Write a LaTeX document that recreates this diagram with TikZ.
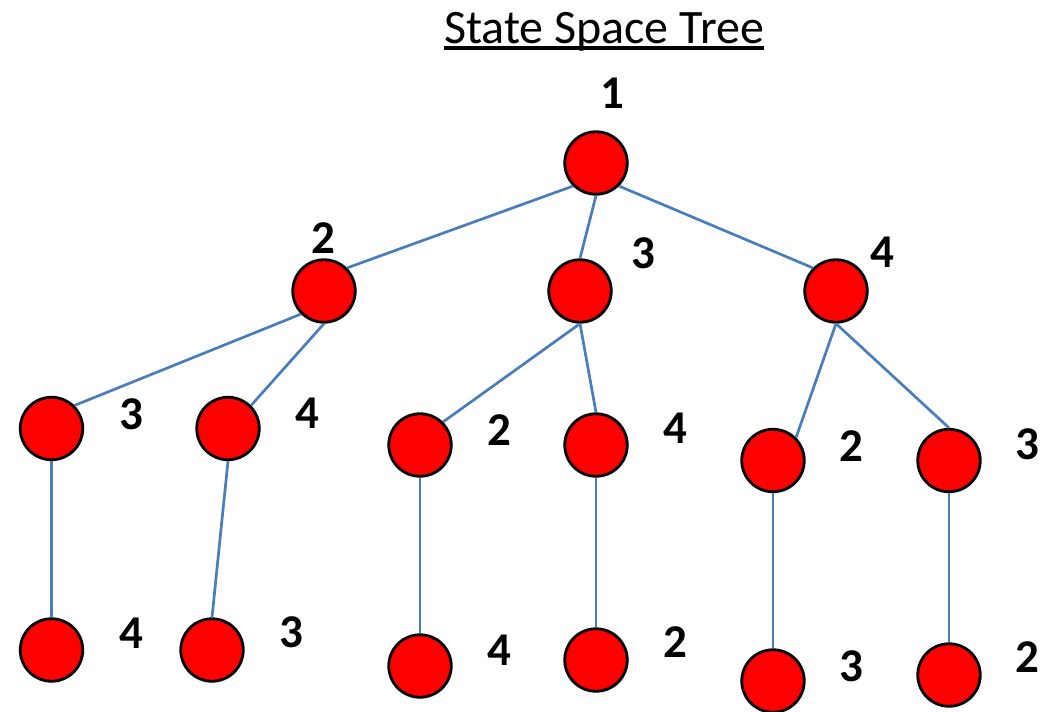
\documentclass[tikz,border=0pt]{standalone}
\usepackage{fontspec}
\setmainfont{Carlito}
\definecolor{edgeblue}{RGB}{74,126,187}
\definecolor{nodered}{RGB}{255,0,0}
\begin{document}
\begin{tikzpicture}[x=1pt,y=-1pt,
  st/.style={circle,draw=black,fill=nodered,line width=2.8pt,minimum size=62.5pt,inner sep=0pt},
  lbl/.style={inner sep=0pt,anchor=center,font=\bfseries\fontsize{47}{47}\selectfont},
  edge/.style={draw=edgeblue,line width=2.7pt}]
\useasboundingbox (0,0) rectangle (1052,712);
% title
\node[inner sep=0pt,anchor=base,font=\fontsize{48}{48}\selectfont] (title) at (604,43) {State Space Tree};
\draw[line width=3.3pt] ([yshift=-5pt]title.base west) -- ([yshift=-5pt]title.base east);
% nodes
\node[st] (r) at (596,163) {};
\node[st] (a) at (324,291) {};
\node[st] (b) at (580,291) {};
\node[st] (c) at (836,291) {};
\node[st] (a1) at (51.5,428.5) {};
\node[st] (a2) at (228,428.5) {};
\node[st] (b1) at (420,445) {};
\node[st] (b2) at (596,445) {};
\node[st] (c1) at (773,460.5) {};
\node[st] (c2) at (949,460.5) {};
\node[st] (a1x) at (51.5,650) {};
\node[st] (a2x) at (212,650) {};
\node[st] (b1x) at (420,666) {};
\node[st] (b2x) at (596,660) {};
\node[st] (c1x) at (773,681) {};
\node[st] (c2x) at (949,675) {};
% edges
\draw[edge] (r.south west) -- (a.north east);
\draw[edge] (r.south) -- (b.north);
\draw[edge] (r.south east) -- (c.north west);
\draw[edge] (a.south west) -- (a1.north east);
\draw[edge] (a.south) -- (a2.north east);
\draw[edge] (b.south) -- (b1.north east);
\draw[edge] (b.south) -- (b2.north);
\draw[edge] (c.south) -- (c1.north east);
\draw[edge] (c.south) -- (c2.north);
\draw[edge] (a1.south) -- (a1x.north);
\draw[edge] (a2.south) -- (a2x.north);
\draw[edge] (b1.south) -- (b1x.north);
\draw[edge] (b2.south) -- (b2x.north);
\draw[edge] (c1.south) -- (c1x.north);
\draw[edge] (c2.south) -- (c2x.north);
% labels
\node[lbl] (lr) at (612,93) {1};
\node[lbl] (la) at (323,238) {2};
\node[lbl] (lb) at (643.5,253) {3};
\node[lbl] (lc) at (882,252) {4};
\node[lbl] (la1) at (131,414) {3};
\node[lbl] (la2) at (307,413) {4};
\node[lbl] (lb1) at (499,430) {2};
\node[lbl] (lb2) at (675,428) {4};
\node[lbl] (lc1) at (851,446) {2};
\node[lbl] (lc2) at (1027,444) {3};
\node[lbl] (la1x) at (131,633) {4};
\node[lbl] (la2x) at (291,632) {3};
\node[lbl] (lb1x) at (499,650) {4};
\node[lbl] (lb2x) at (675,642) {2};
\node[lbl] (lc1x) at (851,666) {3};
\node[lbl] (lc2x) at (1027,657) {2};
\end{tikzpicture}
\end{document}
